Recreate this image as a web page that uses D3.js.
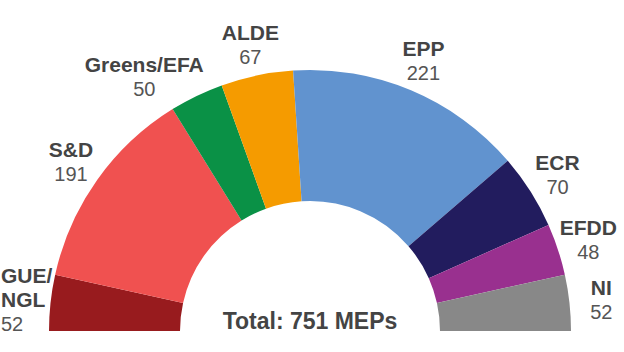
<!DOCTYPE html>
<html>
<head>
<meta charset="utf-8">
<script src="https://cdn.jsdelivr.net/npm/d3@7"></script>
<style>
    body { margin: 0; background: #fff; }
    svg { display: block; font-family: "Liberation Sans", Arial, sans-serif; }
</style>
</head>
<body>
<svg id="chart" width="624" height="352"></svg>
<script>
// European Parliament seats by group
var parties = ['GUE/NGL', 'S&D', 'Greens/EFA', 'ALDE', 'EPP', 'ECR', 'EFDD', 'NI'];
var seats = [52, 191, 50, 67, 221, 70, 48, 52];
var partyColors = ['#981b1e', '#f05150', '#0a9146', '#f59b00', '#6193cf', '#221c5e', '#99308f', '#888888'];

var width = 624;
var height = 352;
var cx = 310;
var cy = 331;
var outerRadius = 261;
var innerRadius = 130;
var labelRadius = 293;
var lineHeight = 24;
var capHeight = 15;
var gap = 18;

var svg = d3.select('#chart');

var color = d3.scaleOrdinal()
    .domain(parties)
    .range(partyColors);

var data = parties.map(function (p, i) {
    return { name: p, seats: seats[i] };
});

var pie = d3.pie()
    .sort(null)
    .startAngle(-Math.PI / 2)
    .endAngle(Math.PI / 2)
    .value(function (d) {
        return d.seats;
    });

var arcs = pie(data);

var arc = d3.arc()
    .innerRadius(innerRadius)
    .outerRadius(outerRadius);

var labelArc = d3.arc()
    .innerRadius(labelRadius)
    .outerRadius(labelRadius);

var g = svg.append('g')
    .attr('transform', 'translate(' + cx + ',' + cy + ')');

g.selectAll('path.slice')
    .data(arcs)
    .enter()
    .append('path')
    .attr('class', 'slice')
    .attr('fill', function (d) {
        return color(d.data.name);
    })
    .attr('d', arc);

// labels: name (bold) + seat count, centred on the label arc
function drawLabel(lg, lines, x, y, anchor) {
    lg.selectAll('*').remove();
    var blockH = capHeight + lineHeight * (lines.length - 1);
    var top = y - blockH / 2 + capHeight;
    var text = lg.append('text')
        .attr('text-anchor', anchor);
    lines.forEach(function (l, k) {
        text.append('tspan')
            .attr('x', x)
            .attr('y', top + k * lineHeight)
            .attr('font-weight', l.bold ? 'bold' : 'normal')
            .attr('font-size', l.bold ? 21 : 20)
            .attr('fill', l.bold ? '#444' : '#555')
            .text(l.text);
    });
    return text.node().getBBox();
}

var labels = arcs.map(function (d) {
    var c = labelArc.centroid(d);
    var lg = g.append('g').attr('class', 'label');
    var lines = [
        { text: d.data.name, bold: true },
        { text: String(d.data.seats), bold: false }
    ];
    var box = drawLabel(lg, lines, c[0], c[1], 'middle');
    // too wide for the left edge: wrap after the slash and pin to the edge
    if (box.x + cx < 0 && d.data.name.indexOf('/') > 0) {
        var parts = d.data.name.split('/');
        lines = [
            { text: parts[0] + '/', bold: true },
            { text: parts[1], bold: true },
            { text: String(d.data.seats), bold: false }
        ];
        box = drawLabel(lg, lines, 1 - cx, c[1], 'start');
    }
    return { g: lg, lines: lines, x: c[0], y: c[1], box: box, mid: (d.startAngle + d.endAngle) / 2 };
});

// push overlapping labels outward, starting from the top
function overlaps(a, b) {
    return a.x < b.x + b.width + gap && b.x < a.x + a.width + gap &&
        a.y < b.y + b.height && b.y < a.y + a.height;
}

var left = labels.filter(function (l) { return l.mid < 0; })
    .sort(function (a, b) { return b.mid - a.mid; });
var right = labels.filter(function (l) { return l.mid >= 0; })
    .sort(function (a, b) { return a.mid - b.mid; });

for (var i = 1; i < left.length; i++) {
    var prev = left[i - 1];
    var cur = left[i];
    if (overlaps(prev.box, cur.box)) {
        var shift = (cur.box.x + cur.box.width + gap) - prev.box.x;
        cur.x -= shift;
        cur.y += shift / 4;
        cur.box = drawLabel(cur.g, cur.lines, cur.x, cur.y, 'middle');
    }
}
for (var j = 1; j < right.length; j++) {
    var p = right[j - 1];
    var q = right[j];
    if (overlaps(p.box, q.box)) {
        var s = (p.box.x + p.box.width + gap) - q.box.x;
        q.x += s;
        q.y += s / 4;
        q.box = drawLabel(q.g, q.lines, q.x, q.y, 'middle');
    }
}

g.append('text')
    .attr('x', 0)
    .attr('y', -2)
    .attr('text-anchor', 'middle')
    .attr('font-weight', 'bold')
    .attr('font-size', 23)
    .attr('fill', '#444')
    .text('Total: ' + d3.sum(seats) + ' MEPs');
</script>
</body>
</html>
